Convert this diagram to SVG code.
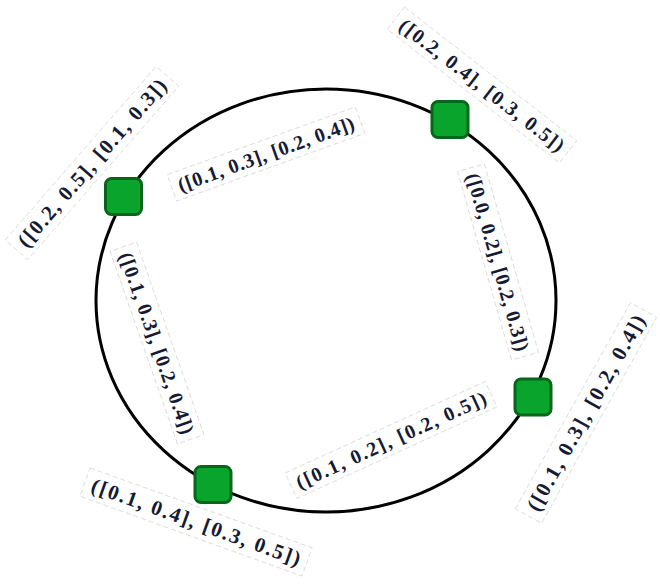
<svg xmlns="http://www.w3.org/2000/svg" width="660" height="588" viewBox="0 0 660 588">
<style>
.node{fill:#09a42c;stroke:#06661a;stroke-width:3}
.edge{fill:none;stroke:#000;stroke-width:3}
.lbl{font-family:"Liberation Serif","Times New Roman",serif;font-weight:bold;font-size:20px;fill:#161a33;text-anchor:middle;dominant-baseline:central}
.big{font-size:21px}
.box{fill:none;stroke:#d6d6d6;stroke-width:0.8;stroke-dasharray:5 3}
</style>
<rect width="660" height="588" fill="#fff"/>
<g id="connectors">
<ellipse class="edge" cx="326" cy="300.5" rx="230" ry="211.5"/>
</g>
<g id="edge-labels">
<g transform="translate(266,154) rotate(-19.8)"><rect class="box" x="-100" y="-14" width="200" height="28"/><text class="lbl" x="0" y="0" textLength="186" lengthAdjust="spacing">([0.1, 0.3], [0.2, 0.4])</text></g>
<g transform="translate(498,262) rotate(74)"><rect class="box" x="-98" y="-14" width="196" height="28"/><text class="lbl" x="0" y="0" textLength="184" lengthAdjust="spacing">([0.0, 0.2], [0.2, 0.3])</text></g>
<g transform="translate(157,343) rotate(70.7)"><rect class="box" x="-102" y="-14" width="204" height="28"/><text class="lbl" x="0" y="0" textLength="191" lengthAdjust="spacing">([0.1, 0.3], [0.2, 0.4])</text></g>
<g transform="translate(391,440) rotate(-24.6)"><rect class="box" x="-110" y="-14" width="220" height="28"/><text class="lbl" x="0" y="0" textLength="207" lengthAdjust="spacing">([0.1, 0.2], [0.2, 0.5])</text></g>
</g>
<g id="node1">
<rect class="node" x="105.5" y="178.5" width="36" height="36" rx="6"/>
<g transform="translate(92,163) rotate(-49)"><rect class="box" x="-115" y="-15" width="230" height="30"/><text class="lbl big" x="0" y="0" textLength="215" lengthAdjust="spacing">([0.2, 0.5], [0.1, 0.3])</text></g>
</g>
<g id="node2">
<rect class="node" x="432" y="101.5" width="36" height="36" rx="6"/>
<g transform="translate(482,85) rotate(37.8)"><rect class="box" x="-109" y="-14" width="218" height="28"/><text class="lbl" x="0" y="0" textLength="203" lengthAdjust="spacing">([0.2, 0.4], [0.3, 0.5])</text></g>
</g>
<g id="node3">
<rect class="node" x="515" y="379" width="36" height="36" rx="6"/>
<g transform="translate(586,413) rotate(-60.8)"><rect class="box" x="-118" y="-15" width="236" height="30"/><text class="lbl big" x="0" y="0" textLength="221" lengthAdjust="spacing">([0.1, 0.3], [0.2, 0.4])</text></g>
</g>
<g id="node4">
<rect class="node" x="195" y="466.5" width="36" height="36" rx="6"/>
<g transform="translate(196,522) rotate(19.8)"><rect class="box" x="-118" y="-15" width="236" height="30"/><text class="lbl big" x="0" y="0" textLength="221" lengthAdjust="spacing">([0.1, 0.4], [0.3, 0.5])</text></g>
</g>
</svg>
